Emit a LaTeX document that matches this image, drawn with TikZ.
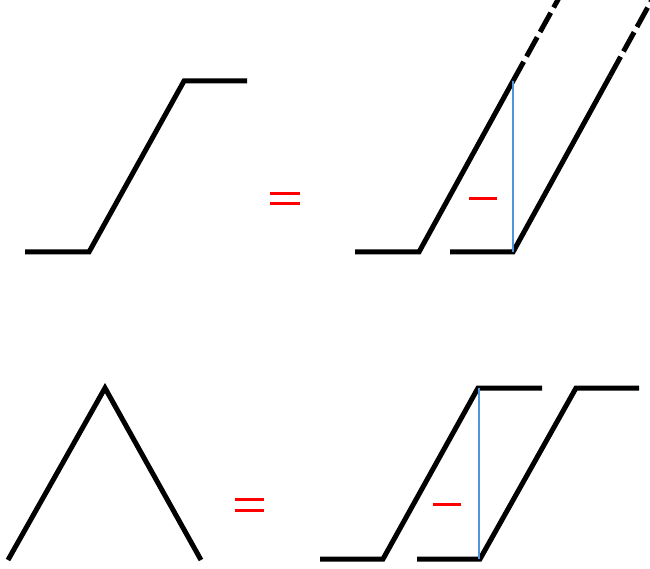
\documentclass[tikz,border=0pt]{standalone}
\definecolor{guideblue}{RGB}{80,150,220}
\begin{document}
\begin{tikzpicture}[x=1pt,y=-1pt,
  curve/.style={line width=5pt,line join=miter},
  ext/.style={line width=5pt,dash pattern=on 22pt off 6pt},
  sign/.style={red,line width=3pt},
  guide/.style={guideblue,line width=1.3pt}]
  \useasboundingbox (0,0) rectangle (650,569);
  \clip (0,0) rectangle (650,569);
  % top row: ramp = ramp - shifted ramp
  \draw[curve] (25,252) -- (89,252) -- (184,81) -- (247,81);
  \draw[sign] (270,194) -- (300,194);
  \draw[sign] (270,204) -- (300,204);
  \draw[curve] (355,252) -- (419,252) -- (513,81);
  \draw[ext] (513,81) -- (560,-4);
  \draw[curve] (450,252) -- (513,252) -- (610,76);
  \draw[ext] (610,76) -- (654,-4);
  \draw[guide] (513,81) -- (513,252);
  \draw[sign] (469,199) -- (497,199);
  % bottom row: hat = ramp - shifted ramp
  \draw[curve] (8,560) -- (105,388) -- (201,560);
  \draw[sign] (235,499) -- (264,499);
  \draw[sign] (235,510) -- (264,510);
  \draw[curve] (320,559) -- (383,559) -- (478,388) -- (542,388);
  \draw[curve] (417,559) -- (480,559) -- (576,388) -- (639,388);
  \draw[guide] (479,388) -- (479,559);
  \draw[sign] (433,504) -- (461,504);
\end{tikzpicture}
\end{document}
